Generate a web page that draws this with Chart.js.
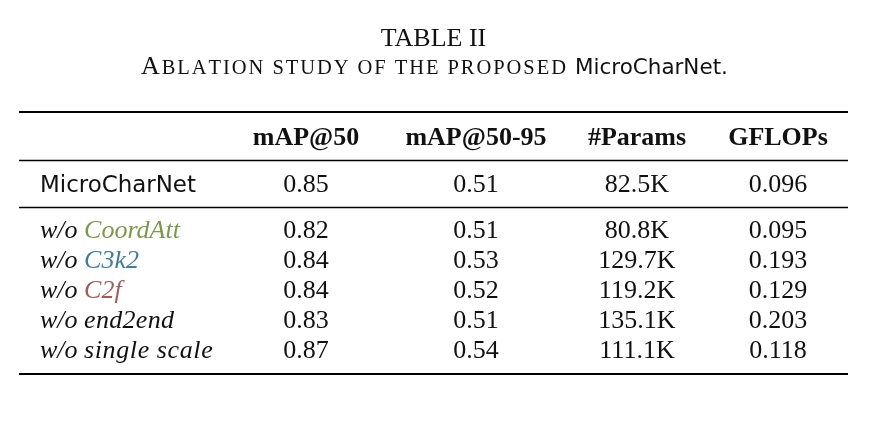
<!DOCTYPE html>
<html>
<head>
<meta charset="utf-8">
<script src="https://cdn.jsdelivr.net/npm/chart.js@4.4.1/dist/chart.umd.min.js"></script>
<style>
  html, body { margin: 0; padding: 0; background: #fff; }
  #wrap { width: 872px; height: 426px; }
</style>
</head>
<body>
<div id="wrap"><canvas id="table" width="872" height="426"></canvas></div>
<script>
// Table content
const TITLE = "TABLE II";
const CAPTION = "Ablation study of the proposed";
const MODEL = "MicroCharNet";
const COLUMNS = ["mAP@50", "mAP@50-95", "#Params", "GFLOPs"];
const VARIANTS = ["CoordAtt", "C3k2", "C2f", "end2end", "single scale"];

// first entry is the full model, then one per variant
const MAP50 = [0.85, 0.82, 0.84, 0.84, 0.83, 0.87];
const MAP5095 = [0.51, 0.51, 0.53, 0.52, 0.51, 0.54];
const PARAMS_K = [82.5, 80.8, 129.7, 119.2, 135.1, 111.1];
const GFLOPS = [0.096, 0.095, 0.193, 0.129, 0.203, 0.118];

// layout (page units, same as pixels)
const COL_X = [40, 306, 476, 637, 778];
const TITLE_Y = 45.5;
const CAPTION_Y = 74;
const CAPTION_X = [141, 728];
const HEADER_Y = 145;
const ROW_Y = [192, 238, 268, 298, 328, 358];
const RULES = [
    { y: 112, w: 2 },
    { y: 160.5, w: 1.3 },
    { y: 207.5, w: 1.3 },
    { y: 374, w: 2 },
];
const RULE_X = [19, 848];
const LABEL_W = 156;
const CAPTION_MODEL_W = 153;
const VARIANT_COLORS = ["#7b9a48", "#3a7f9c", "#a55a55", "#111", "#111"];
const VARIANT_SPACING = [0, 0, 0, 0.3, 0.6];

const SERIF = "'Liberation Serif', 'Times New Roman', serif";
const SANS = "'Comic Sans MS', 'DejaVu Sans', sans-serif";
const FS = 26;
const SMALL_FS = 20.5;

//Draws text in small caps, capitals full size, extra px after each char
function smallCaps(ctx, text, x, y, big, small, extra, draw) {
    let cx = x;
    for (let i = 0; i < text.length; i++) {
        const ch = text[i];
        const isBig = ch !== ch.toLowerCase();
        ctx.font = (isBig ? big : small) + "px " + SERIF;
        const s = ch.toUpperCase();
        if (draw) ctx.fillText(s, cx, y);
        cx += ctx.measureText(s).width + extra;
    }
    return cx - x;
}

//Font size for the sans label so it spans a given width
function fitSize(ctx, text, width) {
    ctx.font = "20px " + SANS;
    return 20 * width / ctx.measureText(text).width;
}

const tablePlugin = {
    id: "tableText",
    afterDraw(chart) {
        const ctx = chart.ctx;
        const sx = chart.scales.x;
        const sy = chart.scales.y;
        const px = v => sx.getPixelForValue(v);
        const py = v => sy.getPixelForValue(v);
        const mid = (px(RULE_X[0]) + px(RULE_X[1])) / 2;

        ctx.save();
        ctx.fillStyle = "#111";
        ctx.textBaseline = "alphabetic";

        // title
        ctx.font = FS + "px " + SERIF;
        ctx.textAlign = "center";
        ctx.fillText(TITLE, mid, py(TITLE_Y));

        // caption: small caps part then model name, spread over its span
        ctx.textAlign = "left";
        const capText = CAPTION + " ";
        const capSize = fitSize(ctx, MODEL + ".", CAPTION_MODEL_W);
        const span = px(CAPTION_X[1]) - px(CAPTION_X[0]);
        const natural = smallCaps(ctx, capText, 0, 0, FS, SMALL_FS, 0, false);
        const extra = (span - CAPTION_MODEL_W - natural) / capText.length;
        const w1 = smallCaps(ctx, capText, px(CAPTION_X[0]), py(CAPTION_Y), FS, SMALL_FS, extra, true);
        ctx.font = capSize + "px " + SANS;
        ctx.fillText(MODEL + ".", px(CAPTION_X[0]) + w1, py(CAPTION_Y));

        // rules
        ctx.strokeStyle = "#000";
        RULES.forEach(r => {
            ctx.lineWidth = r.w;
            ctx.beginPath();
            ctx.moveTo(px(RULE_X[0]), py(r.y));
            ctx.lineTo(px(RULE_X[1]), py(r.y));
            ctx.stroke();
        });

        // header
        ctx.textAlign = "center";
        ctx.font = "bold " + FS + "px " + SERIF;
        COLUMNS.forEach((c, i) => ctx.fillText(c, px(COL_X[i + 1]), py(HEADER_Y)));

        // row labels
        ctx.textAlign = "left";
        ctx.font = fitSize(ctx, MODEL, LABEL_W) + "px " + SANS;
        ctx.fillText(MODEL, px(COL_X[0]), py(ROW_Y[0]));
        VARIANTS.forEach((v, i) => {
            const y = py(ROW_Y[i + 1]);
            ctx.font = "italic " + FS + "px " + SERIF;
            ctx.letterSpacing = "0px";
            ctx.fillStyle = "#111";
            const pre = "w/o ";
            ctx.fillText(pre, px(COL_X[0]), y);
            const pw = ctx.measureText(pre).width;
            ctx.letterSpacing = VARIANT_SPACING[i] + "px";
            ctx.fillStyle = VARIANT_COLORS[i];
            ctx.fillText(v, px(COL_X[0]) + pw, y);
        });
        ctx.letterSpacing = "0px";

        // values
        ctx.fillStyle = "#111";
        ctx.textAlign = "center";
        ctx.font = FS + "px " + SERIF;
        for (let r = 0; r < MAP50.length; r++) {
            const y = py(ROW_Y[r]);
            const cells = [
                MAP50[r].toFixed(2),
                MAP5095[r].toFixed(2),
                PARAMS_K[r].toFixed(1) + "K",
                GFLOPS[r].toFixed(3),
            ];
            cells.forEach((t, i) => ctx.fillText(t, px(COL_X[i + 1]), y));
        }
        ctx.restore();
    },
};

new Chart(document.getElementById("table"), {
    type: "scatter",
    data: { datasets: [{ data: [], pointRadius: 0 }] },
    options: {
        responsive: false,
        animation: false,
        layout: { padding: 0 },
        plugins: { legend: { display: false }, tooltip: { enabled: false } },
        scales: {
            x: { type: "linear", min: 0, max: 872, display: false },
            y: { type: "linear", min: 0, max: 426, reverse: true, display: false },
        },
    },
    plugins: [tablePlugin],
});
</script>
</body>
</html>
